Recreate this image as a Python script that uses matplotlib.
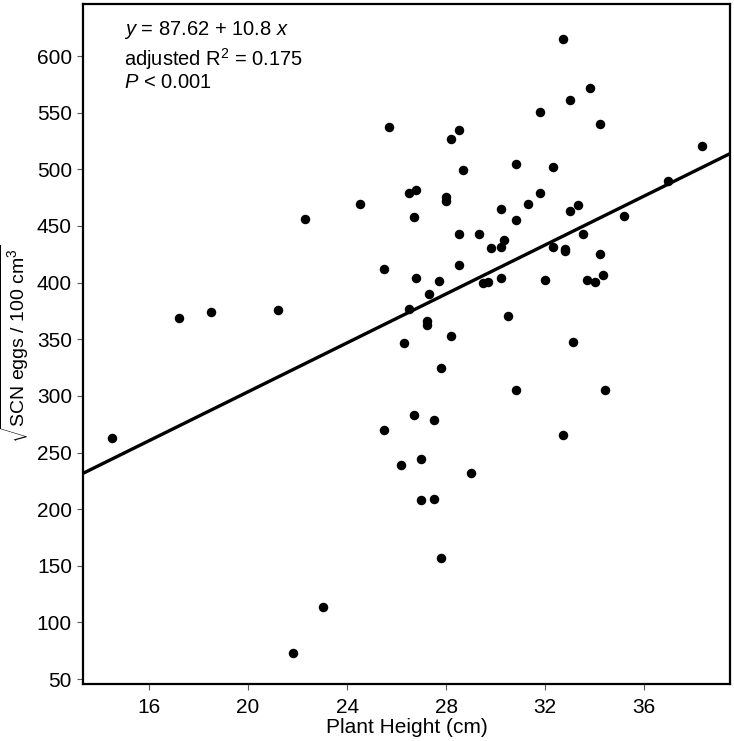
import numpy as np
import matplotlib
matplotlib.use('Agg')
import matplotlib.pyplot as plt

# plant height (cm) and sqrt SCN eggs per 100 cm3
height = [32.72, 33.83, 33.02, 31.81, 34.21, 25.71, 28.51, 28.21, 38.33, 30.82,
          32.31, 28.70, 31.81, 26.52, 26.80, 28.01, 28.01, 31.31, 24.51, 30.22,
          33.31, 33.02, 22.30, 26.71, 30.82, 28.53, 29.31, 33.52, 35.19, 36.98,
          30.32, 30.22, 29.81, 32.31, 32.82, 32.82, 34.21, 28.51, 25.51, 26.80,
          27.70, 27.31, 29.48, 29.71, 30.22, 32.01, 33.71, 34.01, 34.32, 21.22,
          26.52, 17.21, 18.51, 27.22, 27.22, 28.20, 26.30, 30.51, 27.80, 26.71,
          27.50, 25.51, 26.19, 27.00, 29.00, 27.00, 27.50, 27.81, 23.02, 21.81,
          14.52, 30.83, 33.13, 32.73, 34.42]
eggs = [615.0, 571.8, 561.2, 550.3, 539.7, 537.1, 534.4, 526.5, 520.8, 504.7,
        502.0, 499.1, 479.1, 479.1, 481.7, 475.3, 472.3, 469.6, 469.6, 465.2,
        468.2, 462.9, 456.4, 457.6, 455.0, 443.1, 443.1, 443.1, 459.0, 489.7,
        437.6, 431.7, 430.8, 431.7, 429.4, 427.9, 425.2, 415.9, 412.2, 404.0,
        401.1, 390.2, 399.6, 400.8, 403.8, 402.5, 402.5, 400.8, 406.4, 375.8,
        376.7, 369.0, 374.3, 366.3, 362.5, 352.8, 346.4, 370.7, 324.6, 283.1,
        278.9, 269.6, 238.7, 244.0, 232.1, 207.8, 208.9, 156.8, 113.8, 73.2,
        263.0, 305.1, 347.5, 265.4, 305.1]

intercept = 87.62
slope = 10.8

xticks = [16, 20, 24, 28, 32, 36]
yticks = list(range(50, 601, 50))

plt.rcParams['font.family'] = 'Liberation Sans'
plt.rcParams['mathtext.fontset'] = 'custom'
plt.rcParams['mathtext.rm'] = 'Liberation Sans'
plt.rcParams['mathtext.it'] = 'Liberation Sans:italic'
plt.rcParams['mathtext.bf'] = 'Liberation Sans:bold'

fig = plt.figure(figsize=(7.34, 7.41), dpi=100)
ax = fig.add_axes([83 / 734, 57 / 741, 647 / 734, 680 / 741])

ax.set_xlim(13.33, 39.47)
ax.set_ylim(45.6, 646)

ax.scatter(height, eggs, s=34, color='black', zorder=3)

xl = np.array(ax.get_xlim())
ax.plot(xl, intercept + slope * xl, color='black', linewidth=2.4, zorder=2)

ax.set_xticks(xticks)
ax.set_yticks(yticks)
ax.tick_params(axis='both', direction='out', length=4, width=0.8, color='0.35',
               labelsize=15, pad=4)
ax.tick_params(axis='x', pad=6)
for s in ax.spines.values():
    s.set_linewidth(1.6)

ax.set_xlabel('Plant Height (cm)', fontsize=15)
ax.xaxis.set_label_coords(0.5, -0.05)
ax.set_ylabel(r'$\sqrt{\mathrm{SCN\ eggs\ /\ 100\ cm^3}}$', fontsize=14)
ax.yaxis.set_label_coords(-0.08, 0.5)

ax.text(0.063, 0.955, r'$y$ = 87.62 + 10.8 $x$', transform=ax.transAxes,
        fontsize=14.5, va='baseline')
ax.text(0.063, 0.909, r'adjusted R$^{2}$ = 0.175', transform=ax.transAxes,
        fontsize=14.5, va='baseline')
ax.text(0.063, 0.876, r'$P$ < 0.001', transform=ax.transAxes,
        fontsize=14.5, va='baseline')

fig.savefig('out.png', dpi=100)
